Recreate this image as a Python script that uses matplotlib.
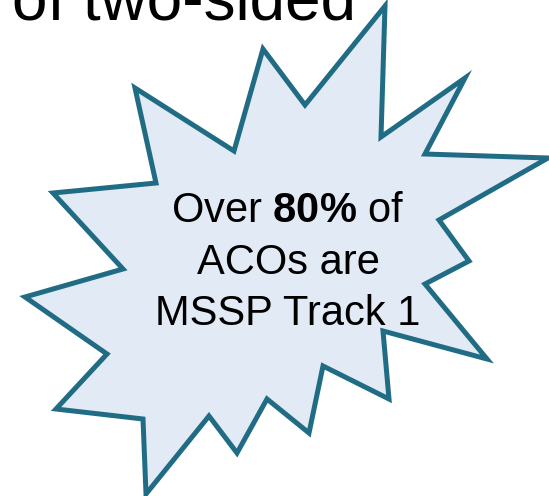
import matplotlib.pyplot as plt
from matplotlib.patches import Polygon

plt.rcParams['font.family'] = ['Liberation Sans', 'DejaVu Sans']
plt.rcParams['mathtext.fontset'] = 'custom'
plt.rcParams['mathtext.rm'] = 'Liberation Sans'
plt.rcParams['mathtext.bf'] = 'Liberation Sans:bold'

# starburst outline, image pixel coordinates (clockwise from the top spike)
star_x = [385, 381, 465, 425, 548, 439, 469, 425, 487, 383, 389, 323, 309, 267,
          237, 209, 146, 143, 56, 107, 25, 123, 53, 156, 135, 234, 263, 305]
star_y = [6, 137, 78, 154, 158, 220, 261, 284, 359, 331, 399, 366, 433, 399,
          453, 416, 494, 419, 409, 354, 297, 269, 193, 183, 88, 151, 49, 105]

header_text = 'of two-sided'
callout_lines = [r'Over $\mathbf{80\%}$ of', 'ACOs are', 'MSSP Track 1']
callout_baselines = [222, 274, 325]

fig = plt.figure(figsize=(5.49, 4.96), dpi=100)
ax = fig.add_axes([0, 0, 1, 1])
ax.set_xlim(0, 549)
ax.set_ylim(496, 0)
ax.axis('off')

star = Polygon(list(zip(star_x, star_y)), closed=True, facecolor='#E2EAF5',
               edgecolor='#216C85', linewidth=3.6, joinstyle='miter')
ax.add_patch(star)

ax.text(12, 20, header_text, fontsize=46, va='baseline', ha='left', color='black')

for line, y in zip(callout_lines, callout_baselines):
    ax.text(288, y, line, fontsize=30, ha='center', va='baseline', color='black')

plt.savefig('out.png', dpi=100)
